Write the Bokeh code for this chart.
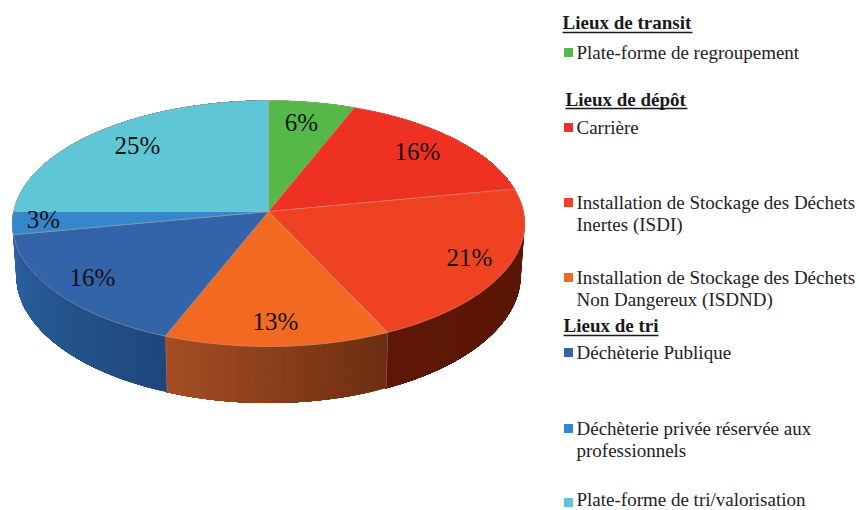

import math
from bokeh.plotting import figure
from bokeh.embed import file_html
from bokeh.resources import INLINE
from bokeh.core.properties import value

# --- data ---
slice_names = ["Plate-forme de regroupement", "Carrière",
               "Installation de Stockage des Déchets Inertes (ISDI)",
               "Installation de Stockage des Déchets Non Dangereux (ISDND)",
               "Déchèterie Publique",
               "Déchèterie privée réservée aux professionnels",
               "Plate-forme de tri/valorisation"]
slice_values = [6, 16, 21, 13, 16, 3, 25]
slice_colors = ["#55b848", "#ee3123", "#ef4223", "#f26a22", "#3363a8", "#3587cb", "#5fc6d5"]
wall_left = ["#3c8a35", "#5e1706", "#5e1706", "#a64e24", "#2b629f", "#2b629f", "#2b629f"]
wall_right = ["#3c8a35", "#5a1505", "#5a1505", "#6b2e10", "#1e477c", "#2b629f", "#2b629f"]
label_x = [301, 417, 469, 275, 92, 43, 137]
label_y = [122, 151, 257, 321, 277, 219, 145]

legend_heads = ["Lieux de transit", "Lieux de dépôt", "Lieux de tri"]
head_x = [562, 565, 563]
head_y = [22, 99, 325]
head_w = [130, 122, 95]
head_rule_y = [32, 108, 335]
legend_lines = [["Plate-forme de regroupement"], ["Carrière"],
                ["Installation de Stockage des Déchets", "Inertes (ISDI)"],
                ["Installation de Stockage des Déchets", "Non Dangereux (ISDND)"],
                ["Déchèterie Publique"],
                ["Déchèterie privée réservée aux", "professionnels"],
                ["Plate-forme de tri/valorisation"]]
legend_y = [52, 127, 202, 277, 352, 428, 499]
marker_y = [52, 127, 202, 277, 352, 428, 502]
line_gap = 21.5

SERIF = "Liberation Serif"
CX, CY, A, B, K, T = 268, 211, 255, 121.8, 0.0976, 51

def top(theta):
    w = 1 + K * math.cos(theta)
    return CX + A * math.sin(theta) / w, CY - B * math.cos(theta) / w

def low(theta):
    w = 1 + K * math.cos(theta)
    return CX + 0.985 * A * math.sin(theta) / w, CY - B * math.cos(theta) / w + T / w

def mix(c1, c2, t):
    a = [int(c1[i:i + 2], 16) for i in (1, 3, 5)]
    b = [int(c2[i:i + 2], 16) for i in (1, 3, 5)]
    return "#%02x%02x%02x" % tuple(round(u + (v - u) * t) for u, v in zip(a, b))

total = sum(slice_values)
edges = [0]
for v in slice_values:
    edges.append(edges[-1] + v)
angles = [2 * math.pi * e / total for e in edges]

p = figure(width=859, height=510, x_range=(0, 859), y_range=(510, 0),
           toolbar_location=None, output_backend="svg", min_border=0,
           outline_line_color=None, border_fill_color="white")
p.axis.visible = False
p.grid.visible = False

# side walls: each strip runs to the end of the slice so no seams show
for i in range(len(slice_values)):
    a0, a1 = angles[i], angles[i + 1]
    n = max(2, int((a1 - a0) / 0.02))
    xs, ys, cs = [], [], []
    for j in range(n):
        u0 = a0 + (a1 - a0) * j / n
        m = 12
        ps = [u0 + (a1 - u0) * q / m for q in range(m + 1)]
        tp = [top(u) for u in ps]
        bt = [low(u) for u in ps]
        xs.append([q[0] for q in tp] + [q[0] for q in reversed(bt)])
        ys.append([q[1] for q in tp] + [q[1] for q in reversed(bt)])
        cs.append(mix(wall_right[i], wall_left[i], (j + 0.5) / n))
    p.patches(xs, ys, fill_color=cs, line_color=None)
    if 2.6 < a1 < 3.9:
        b, t = low(a1), top(a1)
        p.line([t[0], b[0]], [t[1], b[1]], line_color="#b58a70", line_width=0.8)

# top face
for i in range(len(slice_values)):
    a0, a1 = angles[i], angles[i + 1]
    n = max(4, int((a1 - a0) / 0.01))
    pts = [top(a0 + (a1 - a0) * j / n) for j in range(n + 1)]
    xs = [CX] + [q[0] for q in pts]
    ys = [CY] + [q[1] for q in pts]
    p.patch(xs, ys, fill_color=slice_colors[i], line_color=mix(slice_colors[i], "#c9a79a", 0.55), line_width=0.8)

p.text(label_x, label_y, text=[f"{v}%" for v in slice_values], text_font=value(SERIF),
       text_font_size="25px", text_color="#111111", text_align="center", text_baseline="middle")

# legend
p.text(head_x, head_y, text=legend_heads, text_font=value(SERIF), text_font_size="19px",
       text_font_style="bold", text_color="#1a1a1a", text_baseline="middle")
p.segment(head_x, head_rule_y, [x + w for x, w in zip(head_x, head_w)], head_rule_y,
          line_color="#1a1a1a", line_width=1.5)
p.rect([568] * 7, marker_y, width=9, height=9, fill_color=slice_colors, line_color=None)
tx, ty, tt = [], [], []
for lines, y in zip(legend_lines, legend_y):
    for k, s in enumerate(lines):
        tx.append(576); ty.append(y + k * line_gap); tt.append(s)
p.text(tx, ty, text=tt, text_font=value(SERIF), text_font_size="19px", text_color="#222222",
       text_baseline="middle")

open("out.html", "w").write(file_html(p, INLINE))
